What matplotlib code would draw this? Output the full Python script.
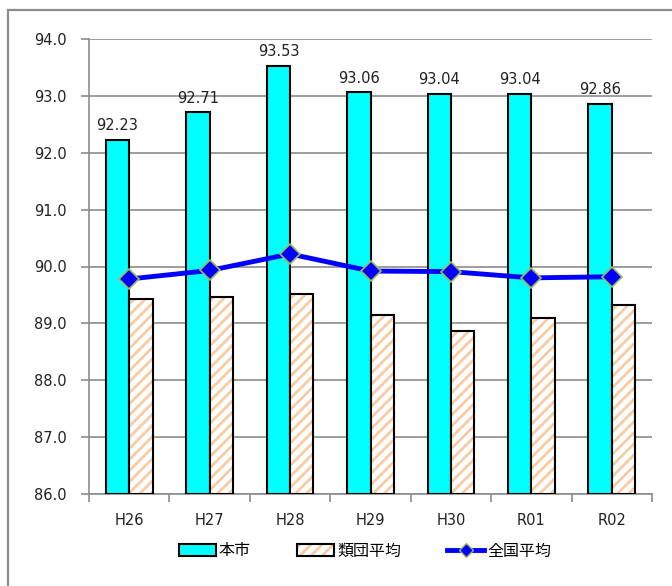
import matplotlib
matplotlib.use("Agg")
import matplotlib.pyplot as plt
from matplotlib.patches import Rectangle, Patch
from matplotlib.lines import Line2D
from matplotlib.legend_handler import HandlerTuple
import numpy as np

plt.rcParams['font.family'] = ['Noto Sans CJK JP', 'DejaVu Sans']
plt.rcParams['hatch.linewidth'] = 2.0

categories = ["H26", "H27", "H28", "H29", "H30", "R01", "R02"]
city = [92.23, 92.71, 93.53, 93.06, 93.04, 93.04, 92.86]
group_avg = [89.43, 89.47, 89.52, 89.15, 88.86, 89.10, 89.33]
national_avg = [89.78, 89.93, 90.22, 89.92, 89.91, 89.80, 89.82]
yticks = [86.0, 87.0, 88.0, 89.0, 90.0, 91.0, 92.0, 93.0, 94.0]
legend_labels = ["本市", "類団平均", "全国平均"]

fig = plt.figure(figsize=(6.72, 5.86), dpi=100)
ax = fig.add_axes([89/672, 1-494/586, (652-89)/672, (494-39)/586])

# outer frame
fig.patches.append(Rectangle((8/672, -0.1), 1.2, (1-10/586)+0.1, transform=fig.transFigure,
                             fill=False, edgecolor="#8c8c8c", linewidth=1.6))

x = np.arange(len(categories))
w = 0.29
cyan = "#00FFFF"
peach = "#F8CBA4"

ax.bar(x - w/2, [v - 86 for v in city], w, bottom=86, color=cyan, edgecolor="black", linewidth=1.5, zorder=3)
ax.bar(x + w/2, [v - 86 for v in group_avg], w, bottom=86, color="white", edgecolor=peach,
       hatch="///", linewidth=0, zorder=3)
ax.bar(x + w/2, [v - 86 for v in group_avg], w, bottom=86, fill=False, edgecolor="black", linewidth=1.5, zorder=3)

ax.plot(x, national_avg, color="#0000FF", linewidth=3.5, marker="D", markersize=10,
        markerfacecolor="#0000FF", markeredgecolor="#9BBB59", markeredgewidth=1.2, zorder=5)

for xi, v in zip(x, city):
    ax.text(xi - w/2, v + 0.12, f"{v:.2f}", ha="center", va="bottom", fontsize=10.5,
            color="#222222", family="DejaVu Sans")

ax.set_ylim(86, 94)
ax.set_xlim(-0.5, len(categories) - 0.5)
ax.set_yticks(yticks)
ax.set_yticklabels([f"{t:.1f}" for t in yticks], fontsize=10.5, family="DejaVu Sans", color="#222222")
ax.set_xticks(x)
ax.set_xticklabels(categories, fontsize=10.5, family="DejaVu Sans", color="#222222")
ax.tick_params(axis="x", which="major", length=0, pad=14)
ax.set_xticks(np.arange(-0.5, len(categories)), minor=True)
ax.tick_params(axis="x", which="minor", length=6, color="#8c8c8c", width=1.2)
ax.tick_params(axis="y", length=6, color="#8c8c8c", width=1.2, pad=10)
ax.grid(axis="y", color="#8c8c8c", linewidth=1.2, zorder=0)
ax.set_axisbelow(True)
for s in ["top", "right"]:
    ax.spines[s].set_visible(False)
for s in ["left", "bottom"]:
    ax.spines[s].set_color("#8c8c8c")
    ax.spines[s].set_linewidth(1.2)

h1 = Patch(facecolor=cyan, edgecolor="black", linewidth=1.5)
h2 = Patch(facecolor="white", edgecolor=peach, hatch="///", linewidth=0)
h2b = Patch(fill=False, edgecolor="black", linewidth=1.5)
h3 = Line2D([], [], color="#0000FF", linewidth=3.5, marker="D", markersize=7,
            markerfacecolor="#0000FF", markeredgecolor="#9BBB59")
fig.legend([h1, (h2, h2b), h3], legend_labels, loc="center", bbox_to_anchor=(365/672, 1-551/586),
           ncol=3, frameon=False, fontsize=11.5, handlelength=2.3, handleheight=0.75,
           handletextpad=0.2, columnspacing=2.9,
           handler_map={tuple: HandlerTuple(ndivide=1, pad=0)})

fig.savefig("out.png", dpi=100)
